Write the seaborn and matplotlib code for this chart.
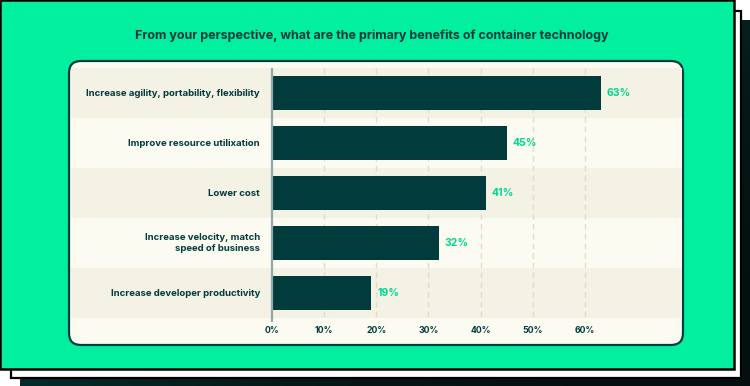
import numpy as np
import pandas as pd
import matplotlib.pyplot as plt
import seaborn as sns
from matplotlib.patches import Rectangle, FancyBboxPatch
from matplotlib.colors import LinearSegmentedColormap

# data
categories = ["Increase agility, portability, flexibility",
              "Improve resource utilixation",
              "Lower cost",
              "Increase velocity, match\nspeed of business",
              "Increase developer productivity"]
values = [63, 45, 41, 32, 19]
tick_values = [0, 10, 20, 30, 40, 50, 60]
tick_labels = [f"{t}%" for t in tick_values]
title = "From your perspective, what are the primary benefits of container technology"

# colours
GREEN = "#01EF9F"
DARK = "#023B3B"
LABEL_GREEN = "#00D690"
BAND_A = "#F4F1E5"
BAND_B = "#FCFBF2"

sns.set_theme(style="white")
plt.rcParams['font.family'] = ['Inter', 'DejaVu Sans']

W, H = 750, 386
fig = plt.figure(figsize=(W / 100, H / 100), dpi=100)
fig.patch.set_facecolor("white")

# background layers drawn in pixel coordinates
bg = fig.add_axes([0, 0, 1, 1])
bg.set_xlim(0, W)
bg.set_ylim(H, 0)
bg.axis("off")

# dark shadow, diagonal gradient teal -> near black
gx, gy = np.meshgrid(np.linspace(0, 1, 200), np.linspace(0, 1, 100))
grad = np.clip(0.75 * gx + 0.6 * gy - 0.2, 0, 1)
cmap = LinearSegmentedColormap.from_list("sh", ["#033F3F", "#03302F", "#061818", "#050F0F"])
bg.imshow(grad, cmap=cmap, extent=[20, W, H, 20], aspect="auto", zorder=1)
# white card with black border
bg.add_patch(Rectangle((10.5, 10.5), 730, 367, facecolor="white", edgecolor="black", lw=1.6, zorder=2))
# green card
bg.add_patch(Rectangle((0, 0), 733.5, 368.5, facecolor=GREEN, edgecolor="black", lw=1.8, zorder=3))
# inner panel
bg.add_patch(FancyBboxPatch((69 + 12, 61 + 12), 614 - 24, 284 - 24,
                            boxstyle="round,pad=12", facecolor=BAND_B,
                            edgecolor=DARK, lw=1.6, zorder=4))

fig.text(372 / W, 1 - 36 / H, title, ha="center", va="center",
         fontsize=9.0, fontweight="bold", color=DARK)

# chart axes
ax = fig.add_axes([70 / W, 1 - 318 / H, 613 / W, 250 / H])
ax.set_facecolor("none")
px_per_pct = (585 - 272) / 60
ax.set_xlim(-(272 - 70) / px_per_pct, (683 - 272) / px_per_pct)

df = pd.DataFrame({"category": categories, "value": values})

for i in range(len(categories)):
    ax.axhspan(i - 0.5, i + 0.5, xmin=0.002, xmax=0.998,
               color=BAND_A if i % 2 == 0 else BAND_B, lw=0, zorder=0)

ax.vlines(tick_values[1:], -0.5, len(categories) - 0.5, colors="#E2DDCB",
          linestyles=(0, (4, 3)), lw=1, zorder=1)

sns.barplot(data=df, x="value", y="category", orient="h", color=DARK,
            width=0.68, saturation=1, linewidth=0, ax=ax, zorder=2)
ax.set_ylim(len(categories) - 0.5, -0.5)
ax.vlines(0, -0.5, len(categories) - 0.42, colors="#8FAAA6", lw=1.6,
          zorder=3, clip_on=False)

for i, (c, v) in enumerate(zip(categories, values)):
    ax.text(v + 1.15, i, f"{v}%", color=LABEL_GREEN, fontweight="bold",
            fontsize=7.5, va="center", ha="left")
    ax.text(-2.3, i, c, color=DARK, fontweight="bold", fontsize=6.9,
            va="center", ha="right", linespacing=1.3)

ax.set_xticks(tick_values)
ax.set_xticklabels(tick_labels)
ax.set_yticks([])
ax.tick_params(axis="x", length=0, pad=6, labelsize=6.3, labelcolor=DARK)
for lbl in ax.get_xticklabels():
    lbl.set_fontweight("bold")
ax.set_xlabel("")
ax.set_ylabel("")
for s in ax.spines.values():
    s.set_visible(False)

fig.savefig("out.png", dpi=100)
